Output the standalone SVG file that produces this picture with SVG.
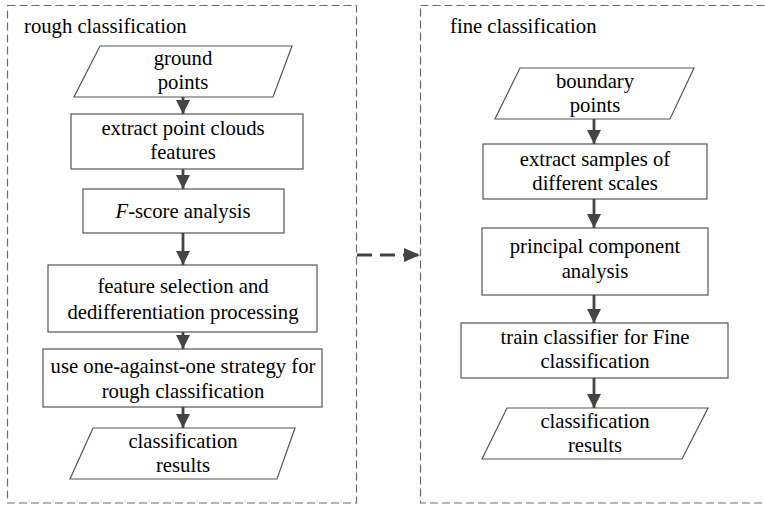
<svg xmlns="http://www.w3.org/2000/svg" width="765" height="505" viewBox="0 0 765 505">
<style>
.frame{fill:none;stroke:#6e6e6e;stroke-width:1.2;stroke-dasharray:8 4}
.node{fill:#fff;stroke:#555;stroke-width:1.2}
.t{font-size:20.7px;fill:#000;text-anchor:middle}
.title{font-size:20.7px;fill:#000}
.conn{stroke:#444;stroke-width:2.8;fill:none}
</style>
<defs>
<marker id="ah" markerUnits="userSpaceOnUse" markerWidth="14" markerHeight="14" viewBox="0 0 14 14" refX="14" refY="7" orient="auto">
<path d="M0,0 L14,7 L0,14 Z" fill="#444"/>
</marker>
<marker id="ahd" markerUnits="userSpaceOnUse" markerWidth="16" markerHeight="14" viewBox="0 0 16 14" refX="16" refY="7" orient="auto">
<path d="M0,0 L16,7 L0,14 Z" fill="#444"/>
</marker>
</defs>

<g id="rough-frame">
<rect class="frame" x="7.5" y="5.5" width="349" height="497.5"/>
</g>
<g id="fine-frame">
<rect class="frame" x="420.5" y="5.5" width="360" height="497.5"/>
</g>

<g font-family="Liberation Serif, Tinos, DejaVu Serif, serif">
<text class="title" x="24" y="33">rough classification</text>
<text class="title" x="450" y="33">fine classification</text>

<g id="ground-points">
<polygon class="node" points="100,46 292,46 273,97 74,97"/>
<text class="t" x="183" y="65">ground</text>
<text class="t" x="183" y="89">points</text>
</g>
<g id="extract-features">
<rect class="node" x="71" y="114" width="232" height="55"/>
<text class="t" x="183" y="135">extract point clouds</text>
<text class="t" x="183" y="159">features</text>
</g>
<g id="fscore">
<rect class="node" x="83" y="189" width="201" height="44"/>
<text class="t" x="183" y="218"><tspan font-style="italic">F</tspan>-score analysis</text>
</g>
<g id="feature-selection">
<rect class="node" x="48" y="265" width="269" height="67"/>
<text class="t" x="183" y="293">feature selection and</text>
<text class="t" x="183" y="319">dedifferentiation processing</text>
</g>
<g id="one-against-one">
<rect class="node" x="43" y="349" width="279" height="58"/>
<text class="t" x="183" y="373">use one-against-one strategy for</text>
<text class="t" x="183" y="398">rough classification</text>
</g>
<g id="rough-results">
<polygon class="node" points="93,428 295,428 277,479 70,479"/>
<text class="t" x="183" y="448">classification</text>
<text class="t" x="183" y="472">results</text>
</g>

<g id="boundary-points">
<polygon class="node" points="520,68 694,68 670,119 495,119"/>
<text class="t" x="595" y="88">boundary</text>
<text class="t" x="595" y="112">points</text>
</g>
<g id="extract-samples">
<rect class="node" x="483" y="144" width="224" height="55"/>
<text class="t" x="595" y="166">extract samples of</text>
<text class="t" x="595" y="190">different scales</text>
</g>
<g id="pca">
<rect class="node" x="482" y="228" width="226" height="67"/>
<text class="t" x="595" y="253">principal component</text>
<text class="t" x="595" y="278">analysis</text>
</g>
<g id="train-classifier">
<rect class="node" x="461" y="323" width="267" height="55"/>
<text class="t" x="595" y="344">train classifier for Fine</text>
<text class="t" x="595" y="368">classification</text>
</g>
<g id="fine-results">
<polygon class="node" points="507,408 708,408 682,459 482,459"/>
<text class="t" x="595" y="428">classification</text>
<text class="t" x="595" y="452">results</text>
</g>
</g>

<g id="connectors">
<line class="conn" x1="183" y1="97" x2="183" y2="114" marker-end="url(#ah)"/>
<line class="conn" x1="183" y1="169" x2="183" y2="189" marker-end="url(#ah)"/>
<line class="conn" x1="183" y1="233" x2="183" y2="265" marker-end="url(#ah)"/>
<line class="conn" x1="183" y1="332" x2="183" y2="349" marker-end="url(#ah)"/>
<line class="conn" x1="183" y1="407" x2="183" y2="428" marker-end="url(#ah)"/>
<line class="conn" x1="594" y1="119" x2="594" y2="144" marker-end="url(#ah)"/>
<line class="conn" x1="594" y1="199" x2="594" y2="228" marker-end="url(#ah)"/>
<line class="conn" x1="594" y1="295" x2="594" y2="323" marker-end="url(#ah)"/>
<line class="conn" x1="594" y1="378" x2="594" y2="408" marker-end="url(#ah)"/>
<line class="conn" x1="357" y1="255" x2="420" y2="255" stroke-dasharray="15 8" marker-end="url(#ahd)"/>
</g>
</svg>
